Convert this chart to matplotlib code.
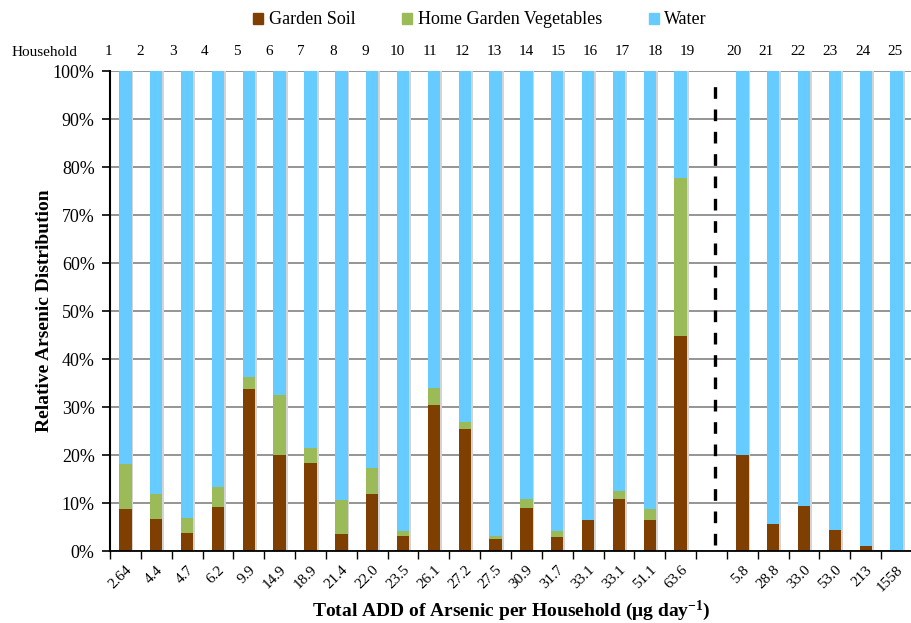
import numpy as np
import matplotlib
matplotlib.use("Agg")
import matplotlib.pyplot as plt
from matplotlib.patches import Patch

# ── DATA ──────────────────────────────────────────────────────────────────────

households = [str(i) for i in range(1, 26)]
add_labels = ["2.64", "4.4", "4.7", "6.2", "9.9", "14.9", "18.9", "21.4", "22.0",
              "23.5", "26.1", "27.2", "27.5", "30.9", "31.7", "33.1", "33.1", "51.1",
              "63.6", "5.8", "28.8", "33.0", "53.0", "213", "1558"]

# percent of total ADD per source
soil = [8.7, 6.7, 3.8, 9.2, 33.7, 19.9, 18.3, 3.6, 11.9, 3.2, 30.4, 25.5, 2.6,
        9.0, 3.0, 6.4, 10.9, 6.4, 44.8, 19.9, 5.6, 9.4, 4.3, 1.1, 0.0]
veg = [9.5, 5.2, 3.0, 4.1, 2.5, 12.6, 3.2, 7.1, 5.4, 0.9, 3.6, 1.4, 0.5,
       1.8, 1.1, 0.0, 1.5, 2.3, 33.0, 0.0, 0.0, 0.0, 0.0, 0.0, 0.0]
water = [81.8, 88.1, 93.2, 86.7, 63.8, 67.5, 78.5, 89.3, 82.7, 95.9, 66.0, 73.1, 96.9,
         89.2, 95.9, 93.6, 87.6, 91.3, 22.2, 80.1, 94.4, 90.6, 95.7, 98.9, 100.0]

# ── STYLE ─────────────────────────────────────────────────────────────────────

C_SOIL = "#7F3F00"
C_VEG = "#9BBB59"
C_WATER = "#66CCFF"

plt.rcParams["font.family"] = ["Liberation Serif", "DejaVu Serif"]
plt.rcParams["mathtext.fontset"] = "custom"
plt.rcParams["mathtext.rm"] = "Liberation Serif:bold"
plt.rcParams["mathtext.it"] = "Liberation Serif:bold"
plt.rcParams["mathtext.bf"] = "Liberation Serif:bold"

# bars 1-19, one empty slot, then 20-25
x = np.r_[np.arange(19), np.arange(20, 26)]
soil = np.array(soil)
veg = np.array(veg)
water = np.array(water)

fig = plt.figure(figsize=(9.12, 6.23), dpi=100)
ax = fig.add_axes([110 / 912, 72 / 623, 1 - 110 / 912, 480 / 623])

w = 0.4
# faint drop shadow like the spreadsheet original
ax.bar(x + 0.06, soil + veg + water, width=w, color="#d4d4d4", zorder=1)
ax.bar(x, soil, width=w, color=C_SOIL, zorder=2)
ax.bar(x, veg, width=w, bottom=soil, color=C_VEG, zorder=2)
ax.bar(x, water, width=w, bottom=soil + veg, color=C_WATER, zorder=2)

ax.axvline(19.12, ymin=0.012, ymax=0.99, color="black", linestyle=(0, (3.5, 3.2)),
           linewidth=2.4, zorder=3)

ax.set_xlim(-0.5, 25.3)
ax.set_ylim(0, 100)
ax.set_yticks(np.arange(0, 101, 10))
ax.set_yticklabels([f"{v}%" for v in range(0, 101, 10)], fontsize=13)
ax.yaxis.grid(True, color="#8c8c8c", linewidth=1.3, zorder=0)
ax.set_axisbelow(True)

ax.set_xticks(np.arange(-0.5, 26, 1))
ax.set_xticklabels([])
ax.set_xticks(x, minor=True)
ax.set_xticklabels(add_labels, minor=True, rotation=45, ha="right",
                   rotation_mode="anchor", fontsize=11)
ax.tick_params(axis="x", which="major", length=6, width=1, direction="out")
ax.tick_params(axis="x", which="minor", length=0, pad=9)
ax.tick_params(axis="y", length=6, width=1.2, direction="out", pad=5)

for s in ["top", "right"]:
    ax.spines[s].set_visible(False)
ax.spines["left"].set_linewidth(1.5)
ax.spines["bottom"].set_linewidth(1.3)

# household numbers along the top
hx = np.r_[-0.55 + 1.042 * np.arange(19), 19.74 + 1.039 * np.arange(6)]
for xi, lab in zip(hx, households):
    ax.text(xi, 1.04, lab, transform=ax.get_xaxis_transform(), ha="center",
            va="center", fontsize=11)
fig.text(12 / 912, 1 - 52 / 623, "Household", ha="left", va="center", fontsize=11)

ax.set_ylabel("Relative Arsenic Distribution", fontsize=14, fontweight="bold", labelpad=0)
fig.text(511 / 912, 1 - 611 / 623, "Total ADD of Arsenic per Household (μg day$^{-1}$)",
         ha="center", va="center", fontsize=14, fontweight="bold")

handles = [Patch(color=C_SOIL, label="Garden Soil"),
           Patch(color=C_VEG, label="Home Garden Vegetables"),
           Patch(color=C_WATER, label="Water")]
fig.legend(handles=handles, loc="center", bbox_to_anchor=(480 / 912, 1 - 20 / 623),
           ncol=3, frameon=False, fontsize=13, handlelength=0.55, handleheight=0.55,
           handletextpad=0.3, columnspacing=2.6)

fig.savefig("out.png", dpi=100)
